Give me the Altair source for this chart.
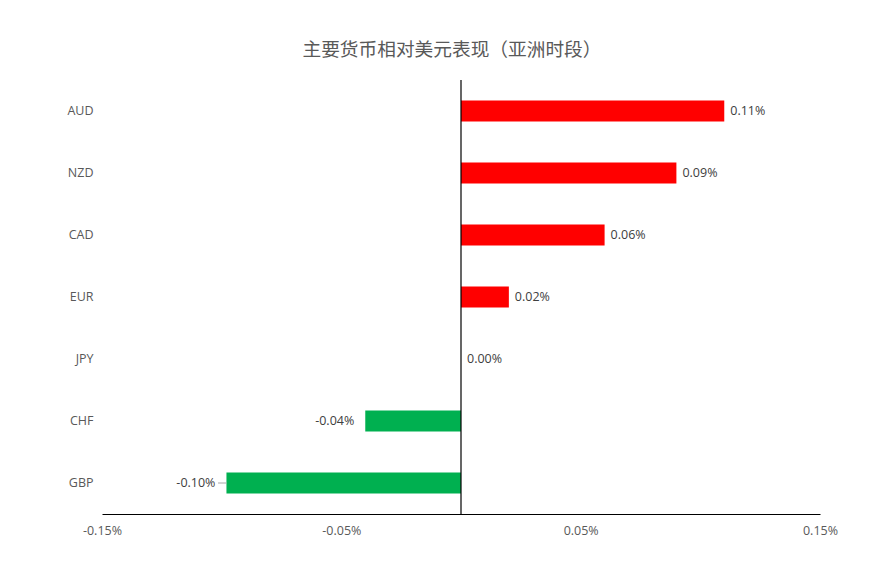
import altair as alt
import pandas as pd

currencies = ["AUD", "NZD", "CAD", "EUR", "JPY", "CHF", "GBP"]
changes = [0.11, 0.09, 0.06, 0.02, 0.00, -0.04, -0.098]
tick_values = [-0.15, -0.05, 0.05, 0.15]
title_text = "主要货币相对美元表现（亚洲时段）"

df = pd.DataFrame({"cur": currencies, "v": changes})

FONT = "Open Sans"
FMT = "replace(format(datum.v, '.2f'), '\u2212', '-') + '%'"
y_enc = alt.Y("cur:N", sort=currencies, title=None,
              scale=alt.Scale(paddingInner=0.66, paddingOuter=0.33),
              axis=alt.Axis(domain=False, ticks=False, labelPadding=9,
                            labelFontSize=12.5, labelColor="#595959", labelFont=FONT))
x_scale = alt.Scale(domain=[-0.15, 0.15], nice=False)

base = alt.Chart(df)

bars = base.mark_bar().encode(
    x=alt.X("v:Q", scale=x_scale, title=None,
            axis=alt.Axis(values=tick_values, grid=False, ticks=False,
                          domainColor="#000000", domainWidth=1.2,
                          labelExpr="replace(format(datum.value, '.2f'), '\u2212', '-') + '%'",
                          labelFlush=False,
                          labelFontSize=12.5, labelColor="#595959", labelFont=FONT,
                          labelPadding=10)),
    y=y_enc,
    color=alt.condition("datum.v >= 0", alt.value("#FF0000"), alt.value("#00B050")),
)

pos_labels = base.transform_filter("datum.v >= 0").transform_calculate(lbl=FMT).mark_text(
    align="left", dx=6, fontSize=12.5, font=FONT, color="#404040"
).encode(x=alt.X("v:Q", scale=x_scale), y=y_enc, text="lbl:N")

neg_labels = base.transform_filter("datum.v < 0").transform_calculate(lbl=FMT).mark_text(
    align="right", dx=-11, fontSize=12.5, font=FONT, color="#404040"
).encode(x=alt.X("v:Q", scale=x_scale), y=y_enc, text="lbl:N")

leader = base.transform_filter("datum.cur == 'GBP'").transform_calculate(
    x0="datum.v - 0.0035"
).mark_rule(color="#A6A6A6", strokeWidth=1).encode(
    x=alt.X("x0:Q", scale=x_scale), x2="v:Q", y=alt.Y("cur:N", sort=currencies, bandPosition=0.5)
)

zero = alt.Chart(pd.DataFrame({"z": [0]})).mark_rule(color="#000000", strokeWidth=1.2).encode(
    x=alt.X("z:Q", scale=x_scale)
)

chart = alt.layer(bars, leader, zero, pos_labels, neg_labels).properties(
    width=718, height=434,
    background="white",
    title=alt.TitleParams(title_text, font="Noto Sans CJK SC", fontSize=18.7,
                          fontWeight="normal", color="#595959", anchor="middle",
                          dx=-9, offset=20),
    autosize=alt.AutoSizeParams(type="none"),
    padding={"left": 94, "top": 72, "right": 52, "bottom": 42},
).configure_view(stroke="transparent", strokeWidth=0)

chart.save("out.html", embed_options={"renderer": "svg", "actions": False})
